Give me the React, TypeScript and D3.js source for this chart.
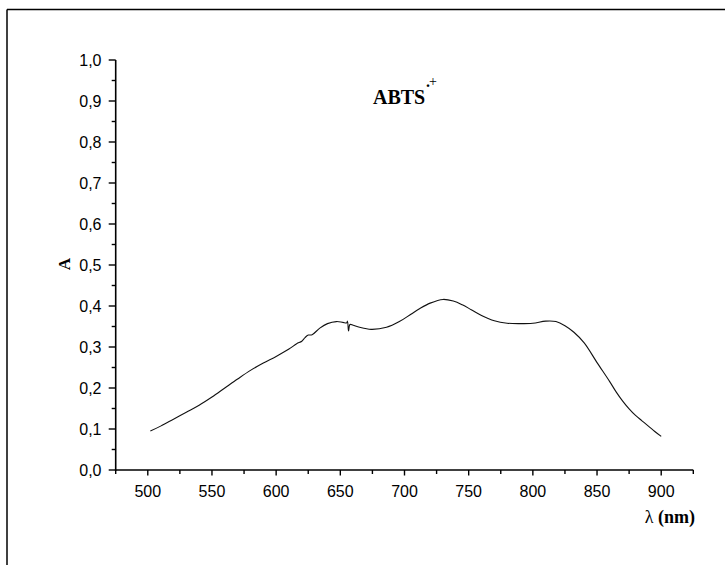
import React from "react";
import * as d3 from "d3";

// Absorption spectrum of the ABTS radical cation
const wavelengths = [
  502, 510, 520, 530, 540, 550, 560, 570, 580, 590, 600, 610, 616, 620, 622.5,
  625, 628, 634, 640, 647, 652, 655, 655.6, 656.4, 657.5, 660, 665, 674, 686,
  696, 705, 712, 720, 730, 738, 745, 752, 760, 770, 780, 790, 800, 810, 818,
  825, 832, 840, 850, 860, 865, 870, 875, 880, 885, 890, 895, 900,
];
const absorbance = [
  0.095, 0.107, 0.124, 0.141, 0.158, 0.178, 0.2, 0.222, 0.243, 0.261, 0.277,
  0.295, 0.308, 0.314, 0.323, 0.329, 0.33, 0.346, 0.357, 0.362, 0.36, 0.359,
  0.363, 0.339, 0.355, 0.353, 0.348, 0.343, 0.348, 0.362, 0.38, 0.394, 0.407,
  0.416, 0.412, 0.403, 0.391, 0.377, 0.364, 0.358, 0.357, 0.358, 0.363, 0.362,
  0.352, 0.336, 0.31, 0.262, 0.215, 0.19, 0.168, 0.149, 0.133, 0.12, 0.107,
  0.094, 0.082,
];

const xMajorTicks = [500, 550, 600, 650, 700, 750, 800, 850, 900];
const xMinorTicks = [475, 525, 575, 625, 675, 725, 775, 825, 875, 925];
const yMajorTicks = [0, 0.1, 0.2, 0.3, 0.4, 0.5, 0.6, 0.7, 0.8, 0.9, 1.0];
const yMinorTicks = [0.05, 0.15, 0.25, 0.35, 0.45, 0.55, 0.65, 0.75, 0.85, 0.95];

const W = 725;
const H = 565;
const left = 115.7;
const right = 693.3;
const top = 60;
const bottom = 470;

const sans = "'Liberation Sans', Arial, sans-serif";
const serif = "'Liberation Serif', 'Times New Roman', serif";

export default function App() {
  const x = d3.scaleLinear().domain([475, 925]).range([left, right]);
  const y = d3.scaleLinear().domain([0, 1]).range([bottom, top]);
  const fmt = (v: number) => v.toFixed(1).replace(".", ",");

  const pts = wavelengths.map((w, i) => [w, absorbance[i]] as [number, number]);
  const path = d3
    .line<[number, number]>()
    .x((d) => x(d[0]))
    .y((d) => y(d[1]))
    .curve(d3.curveCatmullRom.alpha(0.5))(pts);

  return (
    <svg
      width={W}
      height={H}
      style={{ position: "absolute", left: 0, top: 0, background: "#fff" }}
    >
      {/* outer frame */}
      <line x1={7} y1={9.5} x2={W} y2={9.5} stroke="#000" strokeWidth={1.5} />
      <line x1={7} y1={9.5} x2={7} y2={H} stroke="#000" strokeWidth={1.5} />

      {/* y axis */}
      <line x1={left} y1={bottom + 0.75} x2={left} y2={top} stroke="#000" strokeWidth={1.6} />
      {yMajorTicks.map((t) => (
        <g key={"ym" + t}>
          <line x1={left - 7} x2={left} y1={y(t)} y2={y(t)} stroke="#000" strokeWidth={1.4} />
          <text
            x={101.5}
            y={y(t) + 5.8}
            textAnchor="end"
            fontFamily={sans}
            fontSize={16}
            fill="#000"
          >
            {fmt(t)}
          </text>
        </g>
      ))}
      {yMinorTicks.map((t) => (
        <line key={"yn" + t} x1={left - 4} x2={left} y1={y(t)} y2={y(t)} stroke="#000" strokeWidth={1.4} />
      ))}

      {/* x axis */}
      <line x1={left - 0.8} y1={bottom} x2={right} y2={bottom} stroke="#000" strokeWidth={1.6} />
      {xMajorTicks.map((t) => (
        <g key={"xm" + t}>
          <line x1={x(t)} x2={x(t)} y1={bottom} y2={bottom + 5.5} stroke="#000" strokeWidth={1.4} />
          <text
            x={x(t)}
            y={497}
            textAnchor="middle"
            fontFamily={sans}
            fontSize={16}
            fill="#000"
          >
            {t}
          </text>
        </g>
      ))}
      {xMinorTicks.map((t) => (
        <line key={"xn" + t} x1={x(t)} x2={x(t)} y1={bottom} y2={bottom + 4} stroke="#000" strokeWidth={1.4} />
      ))}

      {/* spectrum */}
      <path d={path ?? ""} fill="none" stroke="#111" strokeWidth={1.1} />

      {/* axis titles */}
      <text
        transform="translate(70,264) rotate(-90)"
        textAnchor="middle"
        fontFamily={serif}
        fontWeight="bold"
        fontSize={17}
        fill="#000"
      >
        A
      </text>
      <text x={695} y={523} textAnchor="end" fontFamily={serif} fontSize={18} fill="#000">
        λ <tspan fontWeight="bold">(nm)</tspan>
      </text>

      {/* species label */}
      <text x={373} y={104} fontFamily={serif} fontWeight="bold" fontSize={20} fill="#000">
        ABTS
      </text>
      <text x={426} y={86.5} fontFamily={serif} fontWeight="bold" fontSize={16} fill="#000">
        .
      </text>
      <text x={429} y={86} fontFamily={serif} fontSize={14} fill="#000">
        +
      </text>
    </svg>
  );
}
